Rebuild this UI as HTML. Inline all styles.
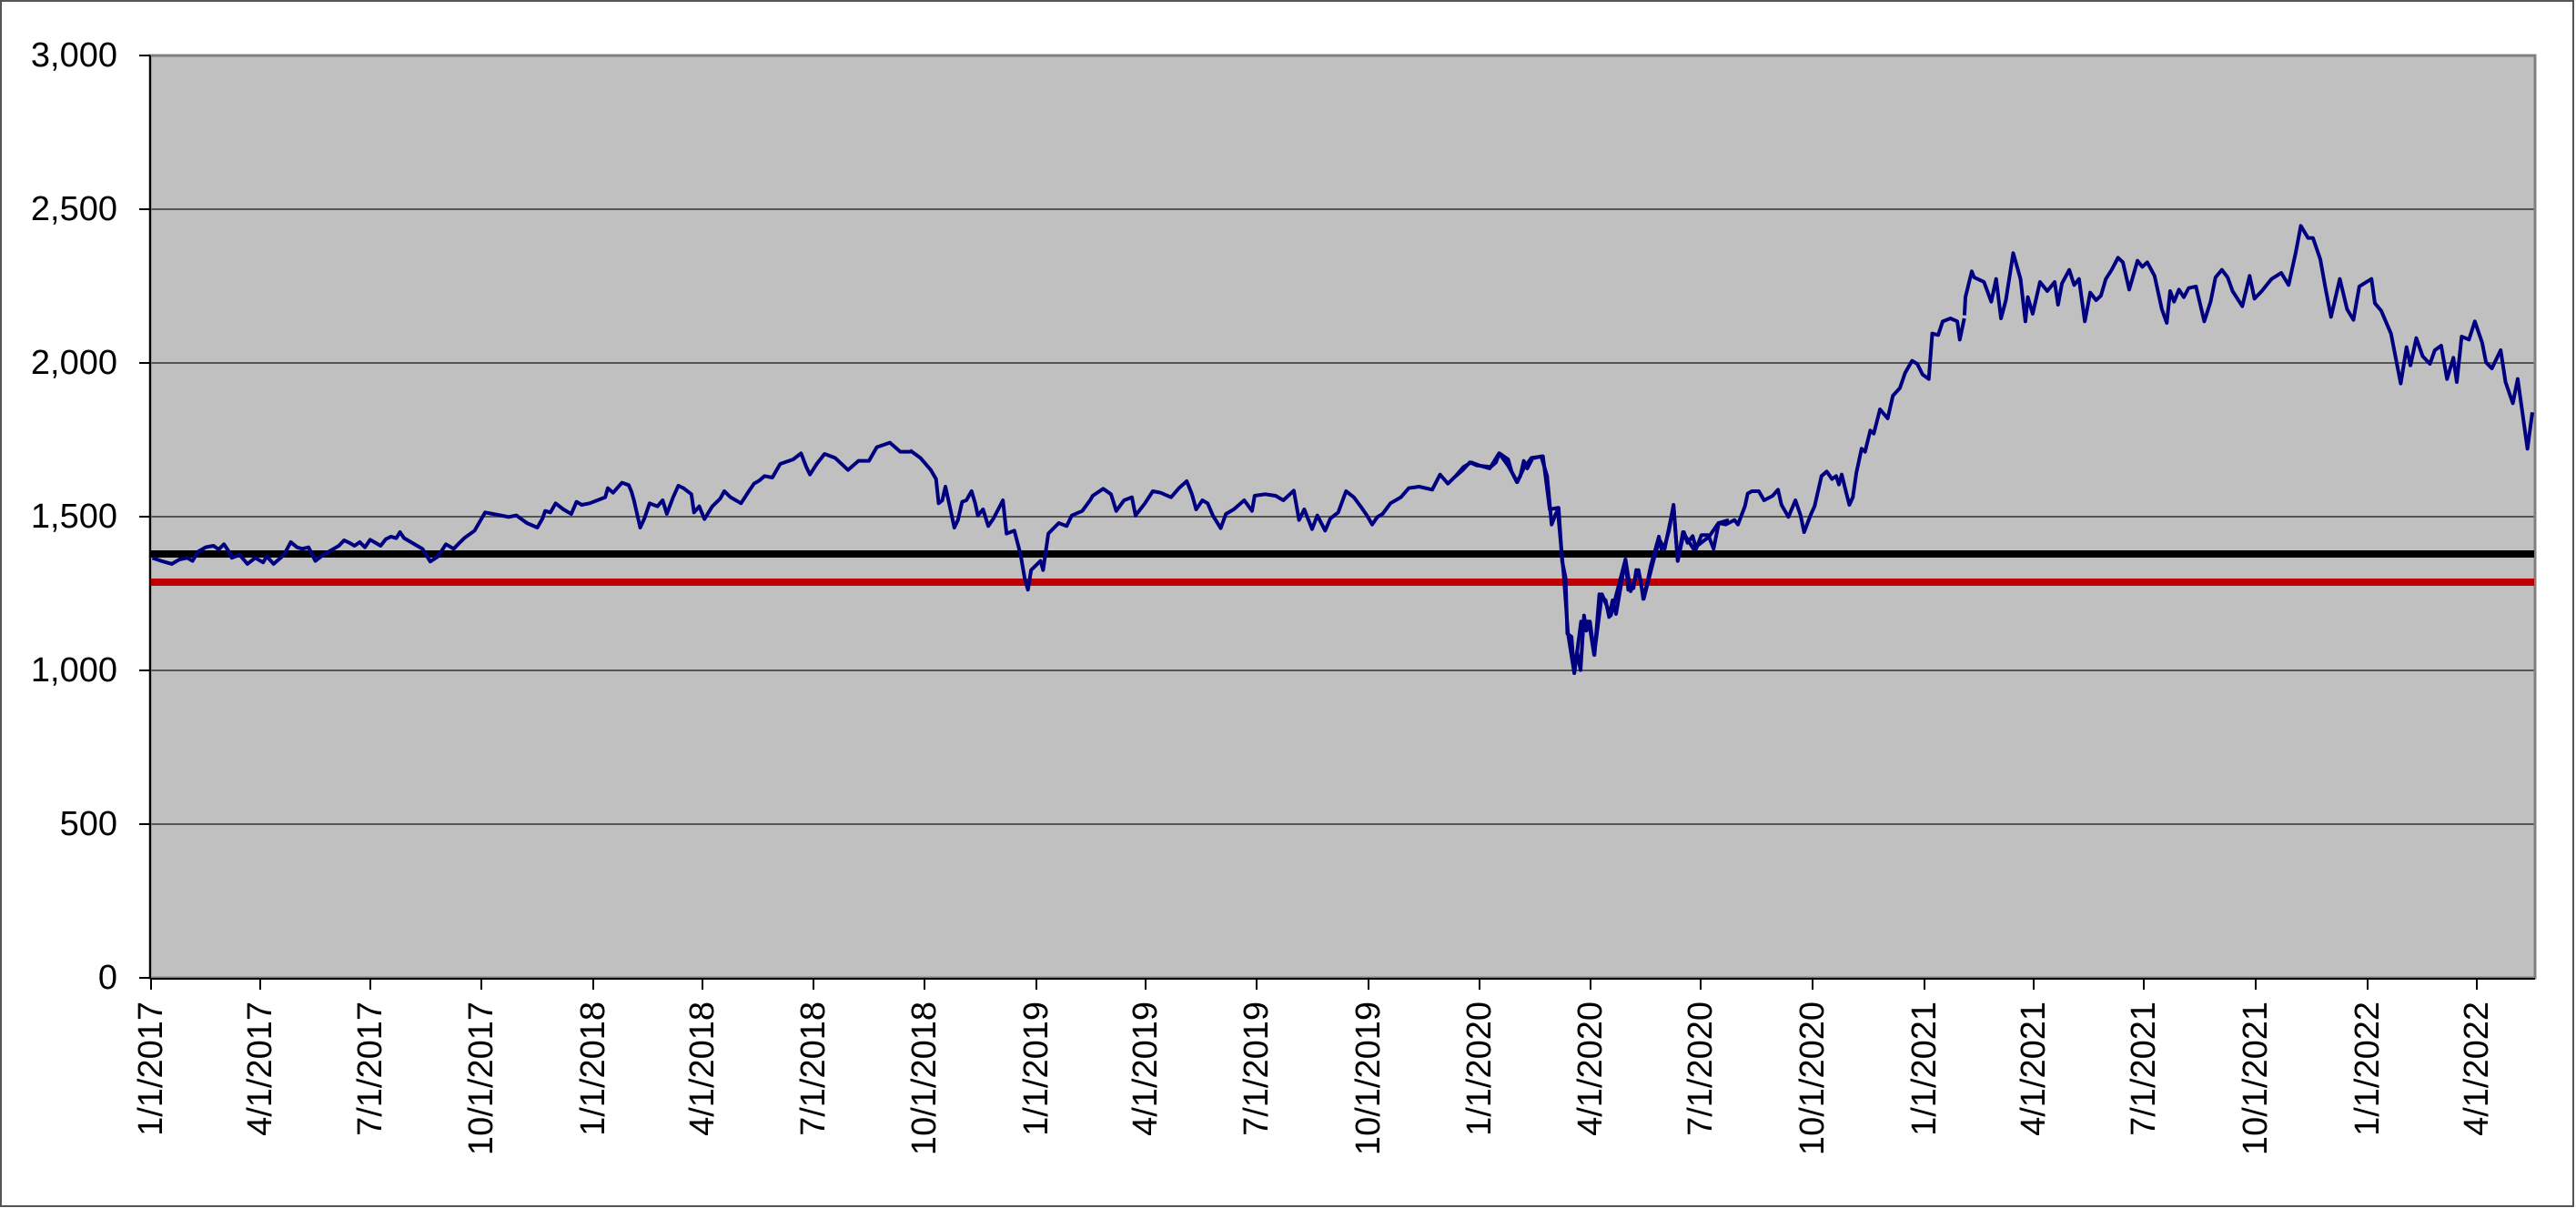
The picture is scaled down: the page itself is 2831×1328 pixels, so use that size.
<!DOCTYPE html>
<html><head><meta charset="utf-8"><style>
html,body{margin:0;padding:0;background:#fff}
svg{display:block}
text{font-family:"Liberation Sans",Arial,sans-serif;fill:#000}
</style></head><body>
<svg width="2831" height="1328" viewBox="0 0 2831 1328" xmlns="http://www.w3.org/2000/svg">
<rect x="1" y="1" width="2827" height="1325" fill="#fff" stroke="#555" stroke-width="2"/>
<rect x="165" y="61" width="2621" height="1014" fill="#c0c0c0"/>
<g stroke="#555" stroke-width="2">
<line x1="165" y1="230" x2="2786" y2="230"/>
<line x1="165" y1="399" x2="2786" y2="399"/>
<line x1="165" y1="568" x2="2786" y2="568"/>
<line x1="165" y1="737" x2="2786" y2="737"/>
<line x1="165" y1="906" x2="2786" y2="906"/>
</g>
<rect x="165" y="61" width="2621" height="1014" fill="none" stroke="#808080" stroke-width="3"/>
<line x1="165" y1="61" x2="165" y2="1076" stroke="#000" stroke-width="2"/>
<line x1="165" y1="1076" x2="2786" y2="1076" stroke="#000" stroke-width="2"/>
<g stroke="#000" stroke-width="2">
<line x1="153" y1="61" x2="165" y2="61"/><line x1="153" y1="230" x2="165" y2="230"/><line x1="153" y1="399" x2="165" y2="399"/><line x1="153" y1="568" x2="165" y2="568"/><line x1="153" y1="737" x2="165" y2="737"/><line x1="153" y1="906" x2="165" y2="906"/><line x1="153" y1="1075" x2="165" y2="1075"/>
</g>
<g font-size="38" text-anchor="end" dominant-baseline="central">
<text x="129" y="61">3,000</text><text x="129" y="230">2,500</text><text x="129" y="399">2,000</text><text x="129" y="568">1,500</text><text x="129" y="737">1,000</text><text x="129" y="906">500</text><text x="129" y="1075">0</text>
</g>
<g stroke="#000" stroke-width="2">
<line x1="166" y1="1076" x2="166" y2="1088"/><line x1="286" y1="1076" x2="286" y2="1088"/><line x1="407" y1="1076" x2="407" y2="1088"/><line x1="529" y1="1076" x2="529" y2="1088"/><line x1="652" y1="1076" x2="652" y2="1088"/><line x1="772" y1="1076" x2="772" y2="1088"/><line x1="894" y1="1076" x2="894" y2="1088"/><line x1="1016" y1="1076" x2="1016" y2="1088"/><line x1="1139" y1="1076" x2="1139" y2="1088"/><line x1="1259" y1="1076" x2="1259" y2="1088"/><line x1="1381" y1="1076" x2="1381" y2="1088"/><line x1="1504" y1="1076" x2="1504" y2="1088"/><line x1="1626" y1="1076" x2="1626" y2="1088"/><line x1="1748" y1="1076" x2="1748" y2="1088"/><line x1="1869" y1="1076" x2="1869" y2="1088"/><line x1="1992" y1="1076" x2="1992" y2="1088"/><line x1="2115" y1="1076" x2="2115" y2="1088"/><line x1="2235" y1="1076" x2="2235" y2="1088"/><line x1="2356" y1="1076" x2="2356" y2="1088"/><line x1="2479" y1="1076" x2="2479" y2="1088"/><line x1="2602" y1="1076" x2="2602" y2="1088"/><line x1="2722" y1="1076" x2="2722" y2="1088"/>
</g>
<g font-size="38" text-anchor="end" dominant-baseline="central">
<text transform="translate(166,1101) rotate(-90)">1/1/2017</text>
<text transform="translate(286,1101) rotate(-90)">4/1/2017</text>
<text transform="translate(407,1101) rotate(-90)">7/1/2017</text>
<text transform="translate(529,1101) rotate(-90)">10/1/2017</text>
<text transform="translate(652,1101) rotate(-90)">1/1/2018</text>
<text transform="translate(772,1101) rotate(-90)">4/1/2018</text>
<text transform="translate(894,1101) rotate(-90)">7/1/2018</text>
<text transform="translate(1016,1101) rotate(-90)">10/1/2018</text>
<text transform="translate(1139,1101) rotate(-90)">1/1/2019</text>
<text transform="translate(1259,1101) rotate(-90)">4/1/2019</text>
<text transform="translate(1381,1101) rotate(-90)">7/1/2019</text>
<text transform="translate(1504,1101) rotate(-90)">10/1/2019</text>
<text transform="translate(1626,1101) rotate(-90)">1/1/2020</text>
<text transform="translate(1748,1101) rotate(-90)">4/1/2020</text>
<text transform="translate(1869,1101) rotate(-90)">7/1/2020</text>
<text transform="translate(1992,1101) rotate(-90)">10/1/2020</text>
<text transform="translate(2115,1101) rotate(-90)">1/1/2021</text>
<text transform="translate(2235,1101) rotate(-90)">4/1/2021</text>
<text transform="translate(2356,1101) rotate(-90)">7/1/2021</text>
<text transform="translate(2479,1101) rotate(-90)">10/1/2021</text>
<text transform="translate(2602,1101) rotate(-90)">1/1/2022</text>
<text transform="translate(2722,1101) rotate(-90)">4/1/2022</text>
</g>
<line x1="166" y1="609" x2="2785" y2="609" stroke="#000" stroke-width="8"/>
<line x1="166" y1="640" x2="2785" y2="640" stroke="#c00000" stroke-width="8"/>
<g fill="none" stroke="#000080" stroke-width="4" stroke-linejoin="round">
<polyline vector-effect="non-scaling-stroke" transform="translate(160,400) scale(0.574,0.3333)" points="13,640 30,650 50,660 65,645 80,640 90,650 100,620 115,605 130,600 140,612 150,595 158,615 165,640 180,630 195,660 210,640 225,655 232,635 245,660 265,630 278,588 290,605 300,610 312,605 325,650 340,630 360,610 370,600 380,582 390,590 400,600 410,588 420,605 430,580 440,590 450,600 460,578 470,570 480,575 487,555 495,575 510,590 520,600 530,610 545,652 560,635 575,595 590,610 600,592 610,575 630,550 640,520 650,490 665,495 680,500 695,505 710,500 730,525 750,540 760,510 765,485 775,490 785,460 800,480 815,495 825,455 835,465 850,460 865,450 880,440 885,410 895,425 912,392 925,400 930,420 935,450 947,540 955,510 965,460 980,470 990,450 998,495 1010,440 1020,402 1030,410 1045,430 1050,490 1060,470 1070,512 1085,470 1100,445 1108,420 1120,440 1140,460 1155,420 1165,395 1175,385 1185,370 1200,375 1215,330 1240,315 1255,295 1265,340 1272,365 1285,330 1300,297 1320,310 1345,350 1365,320 1385,320 1400,275 1425,260 1445,290 1465,290"/>
<polyline vector-effect="non-scaling-stroke" transform="translate(1000,450) scale(0.574,0.3333)" points="0,135 20,160 40,200 50,230 55,310 62,300 68,255 75,310 85,390 92,365 100,305 108,300 118,270 125,310 130,350 140,330 150,385 160,360 178,300 185,410 200,400 212,480 220,560 226,595 232,530 250,500 255,530 265,410 285,375 300,385 310,350 330,335 345,300 350,285 370,262 385,280 395,335 410,300 425,290 432,350 450,310 465,270 480,275 500,290 515,260 530,237 540,280 548,330 560,300 570,310 580,350 595,392 605,345 620,330 640,300 655,335 660,285 680,280 700,285 715,300 735,268 745,365 755,330 770,395 780,350 795,400 805,360 820,340 835,270 850,290 865,325 875,350 885,380 895,355 905,345 920,310 940,290 955,260 975,255 1000,265 1015,215 1030,245 1045,220 1060,190 1075,175 1090,185 1110,195 1128,145 1145,185 1163,240 1175,195 1190,160 1212,155 1225,330 1240,325 1252,550 1260,740 1272,870 1285,700 1300,700 1310,810 1325,610 1342,680 1370,495 1380,600 1395,530 1405,625 1425,490 1435,430 1445,460 1462,318 1470,500 1480,405 1500,460 1530,420 1548,375 1568,365"/>
<polyline vector-effect="non-scaling-stroke" transform="translate(1600,350) scale(0.3827,0.3333)" points="0,520 20,500 40,475 60,485 100,490 115,475 125,445 150,465 160,505 175,540 185,520 195,470 205,495 220,462 245,455 262,520 275,680 285,650 295,625 305,800 315,855 320,1040 332,1050 340,1170 348,1100 358,1160 368,980 375,1030 385,1000 398,1110 412,910 430,930 440,985 450,930 460,975 487,795 495,895 510,890 518,830 530,860 538,925 550,870 560,815 583,720 590,760 600,750 612,700 625,615 637,800 655,705 665,740 680,718 690,760 705,715 725,715 740,760 755,675 775,680 800,665 810,680 830,620 838,578 850,570 870,570 885,600 910,585 925,565 935,615 955,655 975,600 990,650 1000,705 1020,645 1030,620 1050,520 1065,505 1080,530 1092,520 1100,548 1108,515 1122,580 1130,615 1140,590 1150,510 1165,430 1175,440 1190,370 1200,380 1218,300 1240,330 1255,255 1275,230 1290,180 1310,140 1325,150 1340,185 1358,200 1368,50 1385,55 1398,10 1420,0 1440,10 1447,70 1460,0"/>
<polyline vector-effect="non-scaling-stroke" transform="translate(1950,200) scale(0.5357,0.3333)" points="390,440 392,380 405,295 410,315 430,330 445,395 455,320 465,450 475,390 490,235 498,280 505,320 515,460 520,380 530,435 545,330 560,360 575,330 582,405 590,335 605,290 615,340 625,320 637,460 648,365 660,390 670,375 680,320 692,290 705,250 715,265 728,355 745,260 755,280 765,265 780,310 795,420 805,465 812,360 820,395 830,355 840,380 850,350 865,345 882,460 895,395 905,315 918,290 930,315 940,360 960,410 975,310 985,385 1000,360 1020,320 1040,300 1055,340 1070,230 1080,145 1095,185 1105,185 1120,255 1130,345 1142,445 1160,320 1175,420 1188,455 1200,345 1215,330 1225,320 1232,400 1245,425 1265,500 1285,665 1297,545 1305,605 1317,515 1330,575 1345,600 1355,555 1368,540 1380,650 1393,580 1400,660 1410,510 1425,520 1437,460 1452,530 1460,595 1472,615 1490,555 1500,660 1515,730 1525,650 1545,880 1555,760"/>
</g>
</svg>
</body></html>
